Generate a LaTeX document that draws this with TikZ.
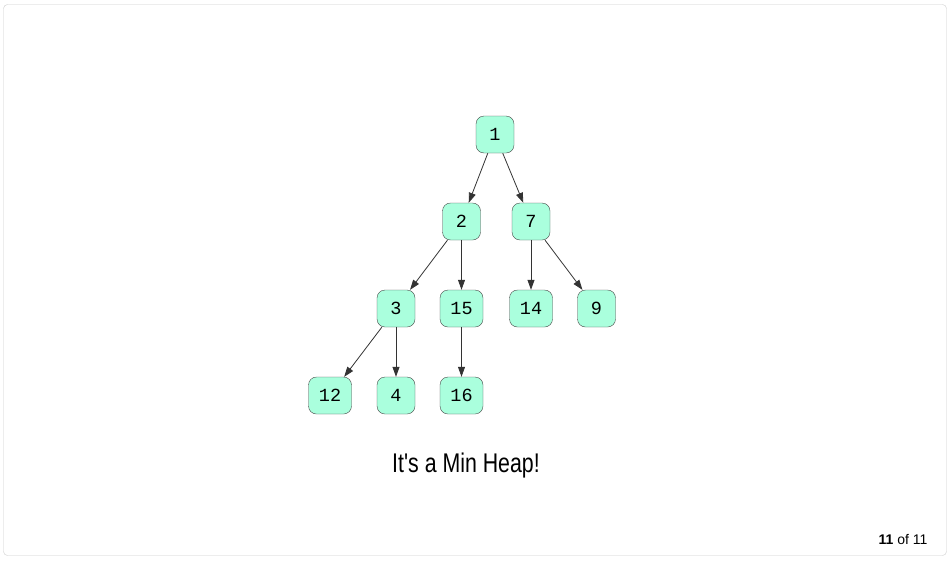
\documentclass[tikz,border=0pt]{standalone}
\usepackage{fontspec}
\setmainfont{Liberation Sans}
\newfontfamily\keyfont{Liberation Mono}
\newfontfamily\captionfont[FakeStretch=0.79]{Liberation Sans}
\usetikzlibrary{arrows.meta}
\definecolor{heapmint}{RGB}{170,255,221}
\definecolor{heapedge}{RGB}{70,70,70}
\definecolor{framegray}{RGB}{205,205,205}
\tikzset{
  heapkey/.style = {draw = heapedge, fill = heapmint, rounded corners = 8pt,
    minimum height = 37pt, minimum width = 38pt, inner sep = 0pt,
    font = \keyfont\fontsize{18.5}{18.5}\selectfont},
  heaplink/.style = {draw = black!80, thick, -{Triangle[length = 10pt, width = 7pt]}}
}
\begin{document}
\begin{tikzpicture}[x = 1pt, y = -1pt]
\useasboundingbox (0,0) rectangle (952,560);
\draw[framegray, rounded corners = 4pt] (3.5,4.5) rectangle (946.5,555.5);
% the heap, level by level
\foreach \name/\x/\y/\key/\w in {
  n1/495/134.5/1/38, n2/461.5/221.5/2/38, n7/531/221.5/7/38,
  n3/396/308.5/3/38, n15/461.5/308.5/15/43, n14/531/308.5/14/43, n9/596.5/308.5/9/38,
  n12/330/395.5/12/43, n4/396/395.5/4/38, n16/461.5/395.5/16/43}
{
  \node[heapkey, minimum width = \w pt] (\name) at (\x,\y) {\key};
}
\foreach \from/\to in {n1/n2, n1/n7, n2/n3, n2/n15, n7/n14, n7/n9, n3/n12, n3/n4, n15/n16}
{
  \draw[heaplink] (\from) -- (\to);
}
\node (caption) at (466,466) {\captionfont\fontsize{27}{27}\selectfont It's a Min Heap!};
\node[anchor = east] (pagecount) at (931,539) {\fontsize{14}{14}\selectfont\textbf{11} of 11};
\end{tikzpicture}
\end{document}
